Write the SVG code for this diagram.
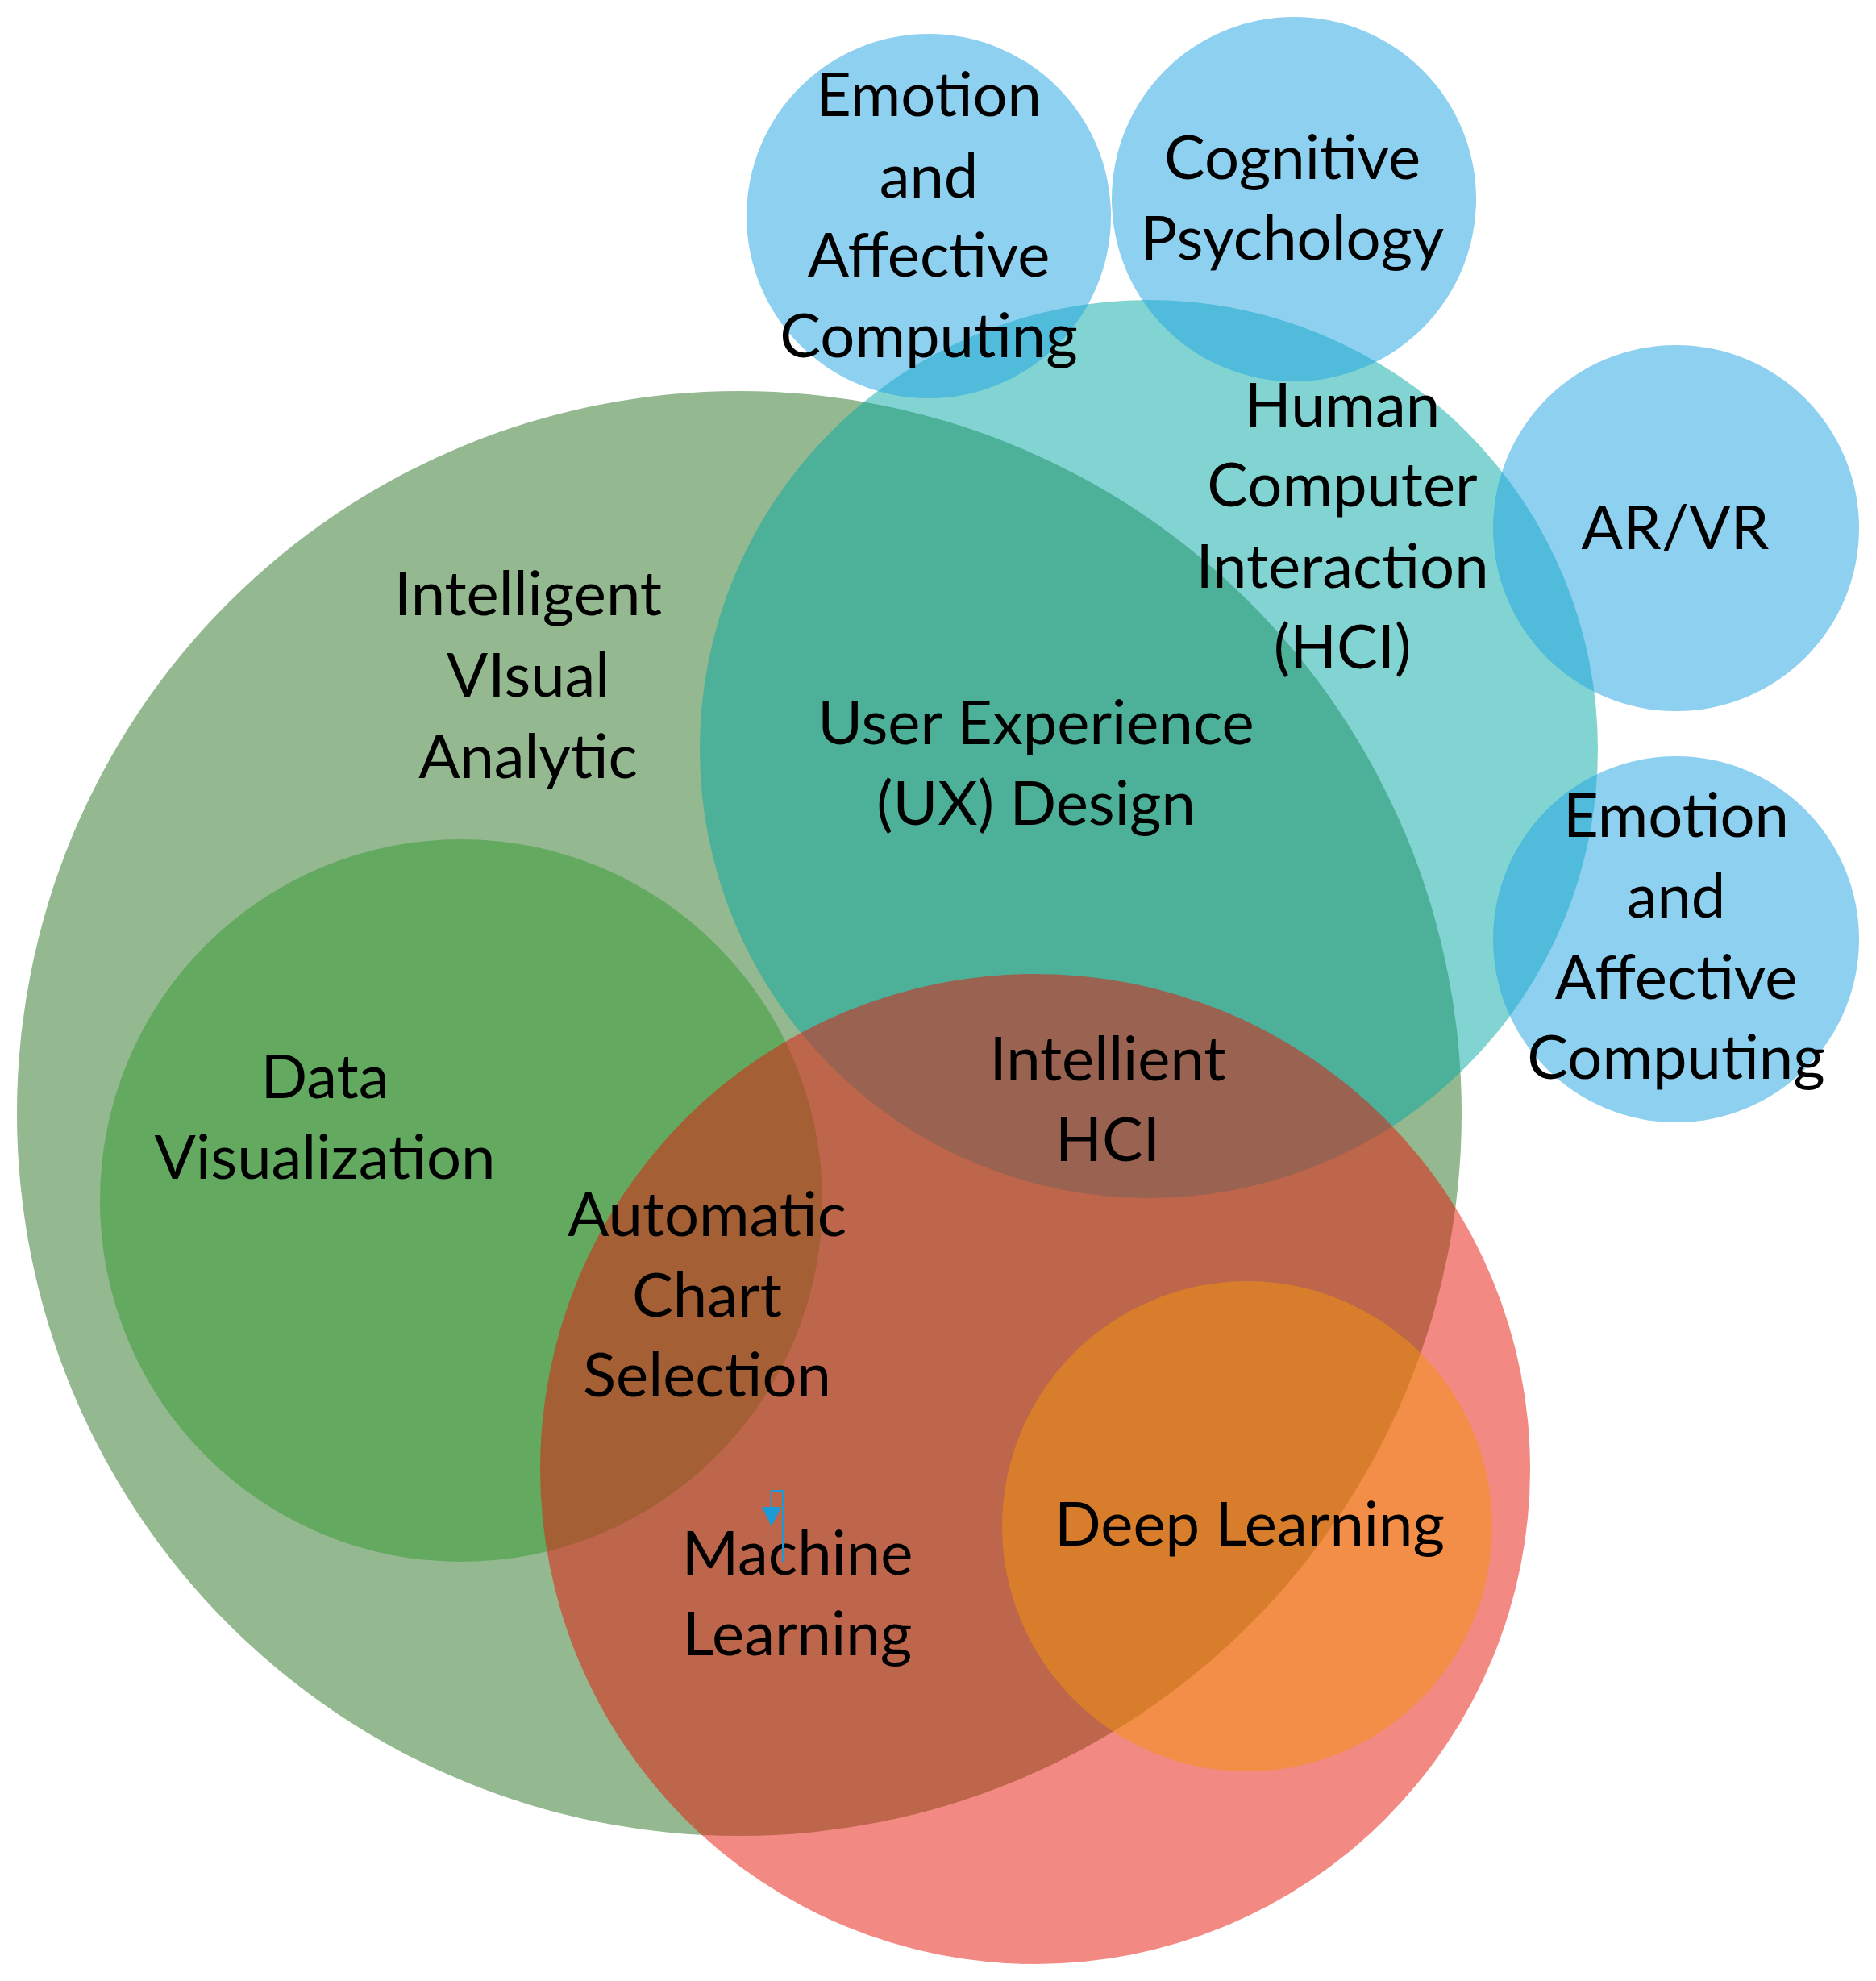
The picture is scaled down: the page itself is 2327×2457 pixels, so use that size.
<svg xmlns="http://www.w3.org/2000/svg" width="2327" height="2457" viewBox="0 0 2327 2457">
<style>
.c{fill-opacity:0.5;stroke:none}
.t{font-family:Lato,"Open Sans","Liberation Sans",sans-serif;font-size:76px;fill:#000;text-anchor:middle}
.green{fill:#29711f}
.dv{fill:#329c31}
.teal{fill:#05a9a5}
.red{fill:#e61407}
.orange{fill:#f3940d}
.blue{fill:#1da1e1}
.conn{fill:none;stroke:#1a9bd7;stroke-width:2}
</style>
<defs>
<marker id="arr" viewBox="0 0 24 24" refX="24" refY="12" markerWidth="24" markerHeight="24" markerUnits="userSpaceOnUse" orient="auto">
<path d="M0,0 L24,12 L0,24 z" fill="#1a9bd7"/>
</marker>
</defs>
<rect width="2327" height="2457" fill="#fff"/>
<g id="intelligent-visual-analytic">
<circle class="c green" cx="917" cy="1381" r="896"/>
</g>
<g id="data-visualization">
<circle class="c dv" cx="572" cy="1489" r="448"/>
</g>
<g id="hci">
<circle class="c teal" cx="1425" cy="929" r="557"/>
</g>
<g id="machine-learning">
<circle class="c red" cx="1284" cy="1822" r="614"/>
</g>
<g id="deep-learning">
<circle class="c orange" cx="1547" cy="1893" r="304"/>
</g>
<g id="emotion-top">
<circle class="c blue" cx="1152" cy="268" r="226"/>
</g>
<g id="cognitive-psychology">
<circle class="c blue" cx="1605" cy="247" r="226"/>
</g>
<g id="ar-vr">
<circle class="c blue" cx="2079" cy="655" r="227"/>
</g>
<g id="emotion-right">
<circle class="c blue" cx="2079" cy="1165" r="227"/>
</g>
<g id="labels">
<text class="t" x="1152" y="144">Emotion</text>
<text class="t" x="1152" y="245">and</text>
<text class="t" x="1152" y="343">Affective</text>
<text class="t" x="1152" y="443">Computing</text>
<text class="t" x="1603" y="222">Cognitive</text>
<text class="t" x="1603" y="322">Psychology</text>
<text class="t" x="2078" y="681">AR/VR</text>
<text class="t" x="2079" y="1038">Emotion</text>
<text class="t" x="2079" y="1138">and</text>
<text class="t" x="2079" y="1239">Affective</text>
<text class="t" x="2079" y="1338">Computing</text>
<text class="t" x="1665" y="529">Human</text>
<text class="t" x="1665" y="628">Computer</text>
<text class="t" x="1665" y="729">Interaction</text>
<text class="t" x="1665" y="829">(HCI)</text>
<text class="t" x="655" y="763">Intelligent</text>
<text class="t" x="655" y="864">VIsual</text>
<text class="t" x="655" y="965">Analytic</text>
<text class="t" x="1285" y="923">User Experience</text>
<text class="t" x="1285" y="1023">(UX) Design</text>
<text class="t" x="403" y="1362">Data</text>
<text class="t" x="403" y="1462">Visualization</text>
<text class="t" x="1374" y="1340">Intellient</text>
<text class="t" x="1374" y="1440">HCI</text>
<text class="t" x="877" y="1533">Automatic</text>
<text class="t" x="877" y="1633">Chart</text>
<text class="t" x="877" y="1732">Selection</text>
<text class="t" x="989" y="1953">Machine</text>
<text class="t" x="989" y="2053">Learning</text>
<text class="t" x="1550" y="1917">Deep Learning</text>
</g>
<g id="connectors">
<path class="conn" d="M971,1937 V1849 H957 V1893" marker-end="url(#arr)"/>
</g>
</svg>
